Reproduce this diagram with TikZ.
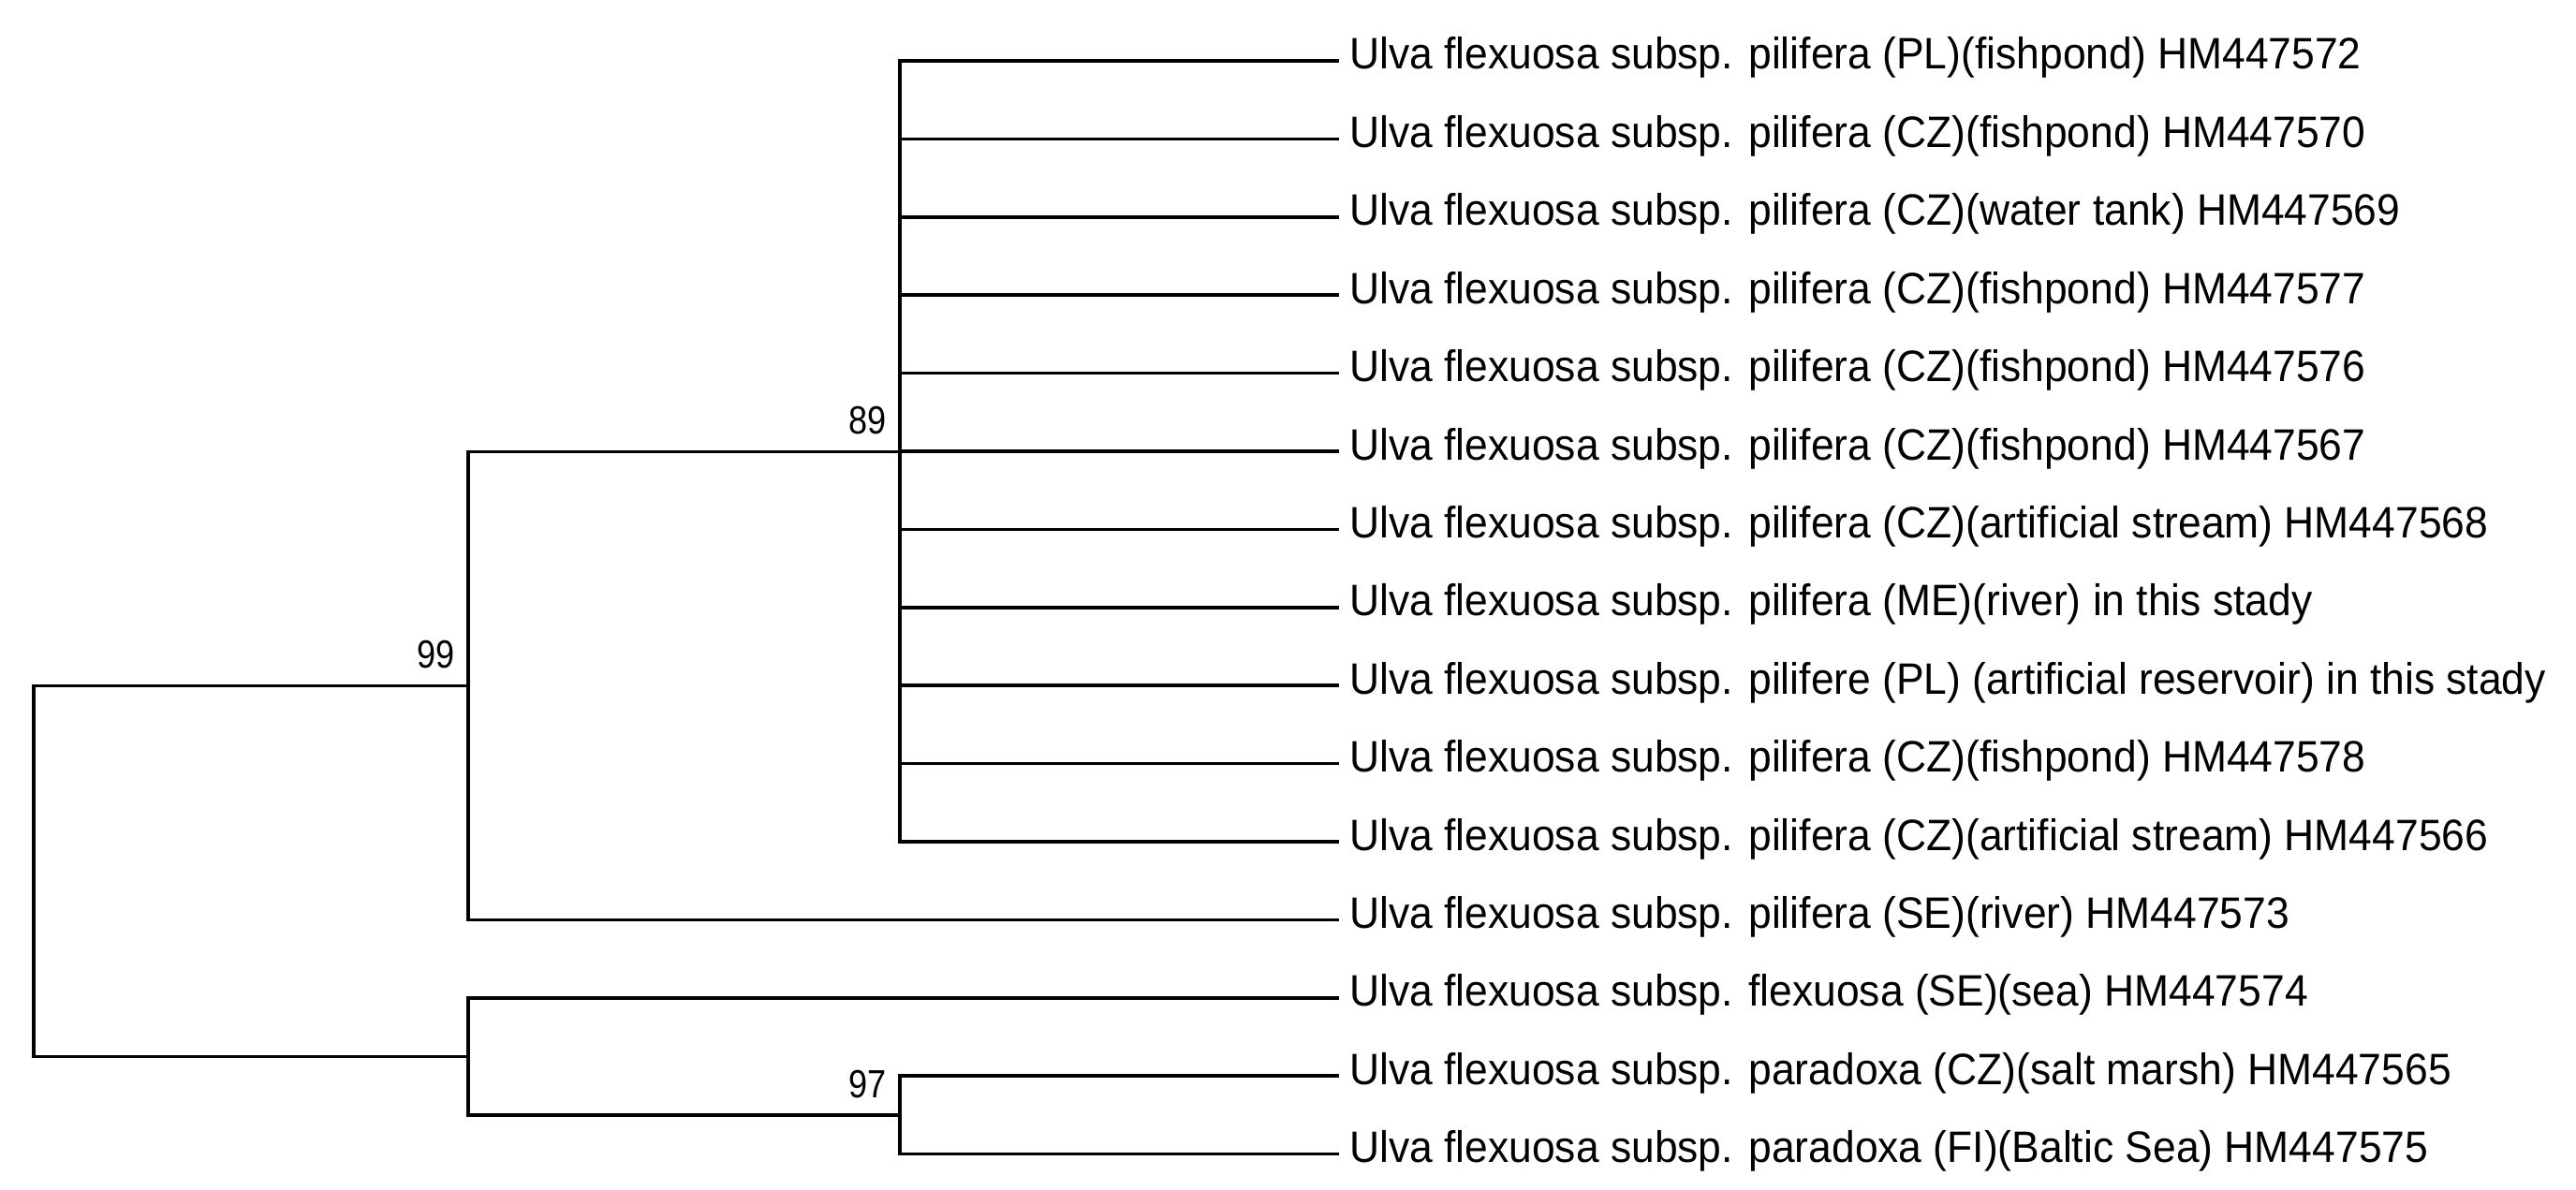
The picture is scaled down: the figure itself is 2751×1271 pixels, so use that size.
\documentclass[tikz,border=0pt]{standalone}
\usepackage{fontspec}
\setmainfont{Liberation Sans}[FakeStretch=0.945]
\newfontfamily\bsfont{Liberation Sans}[FakeStretch=0.86]
\begin{document}
\begin{tikzpicture}[x=1pt,y=-1pt,
  branch/.style={line width=3.6pt,line join=miter,line cap=rect,black},
  leaf/.style={anchor=base west,inner sep=0pt,font=\fontsize{47}{56}\selectfont},
  boot/.style={anchor=base east,inner sep=0pt,font=\bsfont\fontsize{42}{50}\selectfont}]
\useasboundingbox (0,0) rectangle (2751,1271);
% internal nodes
\coordinate (root) at (36,931);
\coordinate (n99) at (500,732.5);
\coordinate (n89) at (961,482.5);
\coordinate (nlow) at (500,1128.5);
\coordinate (n97) at (961,1191);
% leaf tips and labels
\foreach \i/\txt in {
 0/{Ulva flexuosa subsp. pilifera (PL)(fishpond) HM447572},
 1/{Ulva flexuosa subsp. pilifera (CZ)(fishpond) HM447570},
 2/{Ulva flexuosa subsp. pilifera (CZ)(water tank) HM447569},
 3/{Ulva flexuosa subsp. pilifera (CZ)(fishpond) HM447577},
 4/{Ulva flexuosa subsp. pilifera (CZ)(fishpond) HM447576},
 5/{Ulva flexuosa subsp. pilifera (CZ)(fishpond) HM447567},
 6/{Ulva flexuosa subsp. pilifera (CZ)(artificial stream) HM447568},
 7/{Ulva flexuosa subsp. pilifera (ME)(river) in this stady},
 8/{Ulva flexuosa subsp. pilifere (PL) (artificial reservoir) in this stady},
 9/{Ulva flexuosa subsp. pilifera (CZ)(fishpond) HM447578},
 10/{Ulva flexuosa subsp. pilifera (CZ)(artificial stream) HM447566},
 11/{Ulva flexuosa subsp. pilifera (SE)(river) HM447573},
 12/{Ulva flexuosa subsp. flexuosa (SE)(sea) HM447574},
 13/{Ulva flexuosa subsp. paradoxa (CZ)(salt marsh) HM447565},
 14/{Ulva flexuosa subsp. paradoxa (FI)(Baltic Sea) HM447575}}{
  \coordinate (t\i) at (1428,{65+83.4*\i});
  \node[leaf] (L\i) at (1441,{65+83.4*\i+9}) {\txt};
}
% clade 89
\draw[branch] (t0) -| (n89) |- (t10);
\foreach \i in {1,...,9}{\draw[branch] (n89 |- t\i) -- (t\i);}
% clade 99
\draw[branch] (n89) -| (n99) |- (t11);
% root
\draw[branch] (n99) -| (root) |- (nlow);
% lower clade
\draw[branch] (t12) -| (nlow) |- (n97);
\draw[branch] (t13) -| (n97) |- (t14);
% bootstrap values
\node[boot] (b89) at ([xshift=-14pt,yshift=19pt]n89) {89};
\node[boot] (b99) at ([xshift=-14pt,yshift=19pt]n99) {99};
\node[boot] (b97) at ([xshift=-14pt,yshift=19pt]n97) {97};
\end{tikzpicture}
\end{document}
